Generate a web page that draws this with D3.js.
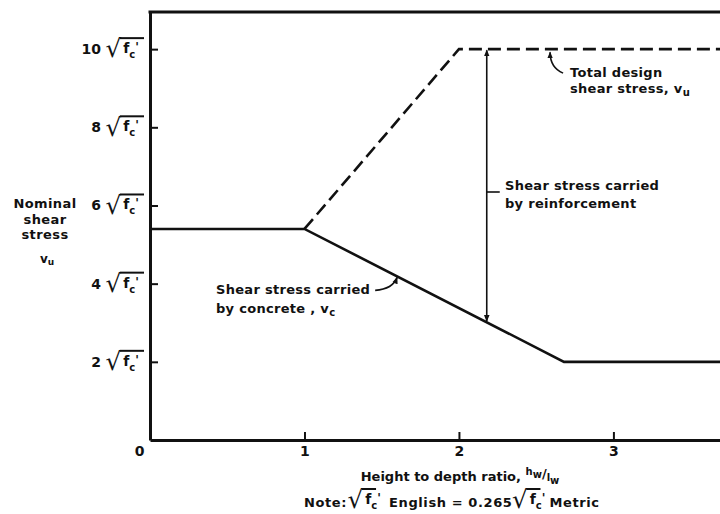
<!DOCTYPE html>
<html>
<head>
<meta charset="utf-8">
<script src="https://cdn.jsdelivr.net/npm/d3@7"></script>
<style>
  body { margin: 0; background: #fff; }
  svg text { font-family: "DejaVu Sans", sans-serif; font-weight: bold; fill: #111; }
</style>
</head>
<body>
<div id="chart"></div>
<script>
// 1. Data ------------------------------------------------
var xTicks = [0, 1, 2, 3];
var yTicks = [2, 4, 6, 8, 10];
var yTickLabels = ["2", "4", "6", "8", "10"];
var concreteX = [0, 1, 2.68, 3.7];
var concreteY = [5.4, 5.4, 2, 2];
var totalX = [1, 2, 3.7];
var totalY = [5.4, 10, 10];
var reinfX = 2.18;       // where the "carried by reinforcement" arrow sits
var concreteNoteX = 1.6; // leader target on the concrete line
var totalNoteX = 2.59;   // leader target on the dashed line

// 2. SVG + scales ----------------------------------------
var svgWidth = 720;
var svgHeight = 514;

var svg = d3.select("#chart").append("svg")
  .attr("width", svgWidth)
  .attr("height", svgHeight);

var xScale = d3.scaleLinear().domain([0, 3.69]).range([150, 720]);
var yScale = d3.scaleLinear().domain([0, 10.95]).range([440, 12]);

var ink = "#111";

svg.append("defs").append("marker")
  .attr("id", "head")
  .attr("viewBox", "0 0 10 10")
  .attr("refX", 9).attr("refY", 5)
  .attr("markerWidth", 7).attr("markerHeight", 7)
  .attr("markerUnits", "userSpaceOnUse")
  .attr("orient", "auto-start-reverse")
  .append("path").attr("d", "M0,1L10,5L0,9Z").attr("fill", ink);

// 3. Axes -------------------------------------------------
var xAxis = d3.axisBottom(xScale).tickValues(xTicks).tickSize(-8).tickSizeOuter(0)
  .tickPadding(6).tickFormat(d3.format("d"));
var yAxis = d3.axisLeft(yScale).tickValues(yTicks).tickSize(-8).tickSizeOuter(0).tickFormat("");

var gx = svg.append("g").attr("transform", `translate(0, ${yScale(0)})`).call(xAxis);
var gy = svg.append("g").attr("transform", `translate(${xScale(0)}, 0)`).call(yAxis);

[gx, gy].forEach(g => {
  g.select(".domain").attr("stroke", ink).attr("stroke-width", 3);
  g.selectAll(".tick line").attr("stroke", ink).attr("stroke-width", 2);
});
gx.selectAll(".tick text").style("font-size", "14px").attr("fill", ink);
// 0 sits left of the corner, no tick mark there
gx.selectAll(".tick").filter(d => d === 0).select("line").remove();
gx.selectAll(".tick").filter(d => d === 0).select("text").attr("dx", -11);

// top border
svg.append("line")
  .attr("x1", xScale(0) - 1.5).attr("x2", svgWidth)
  .attr("y1", yScale.range()[1]).attr("y2", yScale.range()[1])
  .attr("stroke", ink).attr("stroke-width", 3);

// measure the real glyph of the radical so it can be fitted to a box
var ctx = document.createElement("canvas").getContext("2d");
ctx.font = "100px 'DejaVu Sans'";
var gm = ctx.measureText("√");
var gAsc = gm.actualBoundingBoxAscent, gDesc = gm.actualBoundingBoxDescent;
var gL = gm.actualBoundingBoxLeft, gR = gm.actualBoundingBoxRight;

// radical with f'c under it, all in one text; yc = middle line, w = total width
function radical(g, x, yc, w) {
  var top = yc - 12, bot = yc + 9;
  var fs = 100 * (bot - top) / (gAsc + gDesc);
  var checkW = (gL + gR) * fs / 100;
  var fx = x + Math.max(13, checkW + 2);
  var t = g.append("text");
  t.append("tspan")
    .attr("x", x + gL * fs / 100).attr("y", top + gAsc * fs / 100)
    .style("font-size", fs + "px").style("font-weight", "normal")
    .text("√");
  t.append("tspan").attr("x", fx).attr("y", yc + 4).style("font-size", "14px").text("f");
  t.append("tspan").attr("x", fx + 6).attr("y", yc + 9).style("font-size", "10px").text("c");
  t.append("tspan").attr("x", fx + 12).attr("y", yc + 2).style("font-size", "12px").text("'");
  g.append("line")
    .attr("x1", x + checkW - 1.5).attr("x2", x + w)
    .attr("y1", top + 1).attr("y2", top + 1)
    .attr("stroke", ink).attr("stroke-width", 2);
  return w;
}

// y tick labels
yTicks.forEach((t, i) => {
  var yc = yScale(t);
  var g = svg.append("g");
  g.append("text").attr("x", 101).attr("y", yc + 5).attr("text-anchor", "end")
    .style("font-size", "14px").text(yTickLabels[i]);
  radical(g, 106, yc, 38);
});

// 4. Lines ------------------------------------------------
var line = d3.line().x(d => xScale(d[0])).y(d => yScale(d[1]));

svg.append("path")
  .datum(concreteX.map((x, i) => [x, concreteY[i]]))
  .attr("d", line).attr("fill", "none")
  .attr("stroke", ink).attr("stroke-width", 2.6);

svg.append("path")
  .datum(totalX.map((x, i) => [x, totalY[i]]))
  .attr("d", line).attr("fill", "none")
  .attr("stroke", ink).attr("stroke-width", 2.6)
  .attr("stroke-dasharray", "13,6");

// concrete value at some x (for arrows/leaders)
function concreteAt(x) {
  var i = d3.bisectRight(concreteX, x) - 1;
  i = Math.max(0, Math.min(i, concreteX.length - 2));
  var t = (x - concreteX[i]) / (concreteX[i + 1] - concreteX[i]);
  return concreteY[i] + t * (concreteY[i + 1] - concreteY[i]);
}

// double arrow: reinforcement share
svg.append("line")
  .attr("x1", xScale(reinfX)).attr("x2", xScale(reinfX))
  .attr("y1", yScale(concreteAt(reinfX)) - 1).attr("y2", yScale(10) + 1)
  .attr("stroke", ink).attr("stroke-width", 1.6)
  .attr("marker-start", "url(#head)").attr("marker-end", "url(#head)");

svg.append("line")
  .attr("x1", xScale(reinfX)).attr("x2", xScale(reinfX) + 13)
  .attr("y1", 192).attr("y2", 192)
  .attr("stroke", ink).attr("stroke-width", 1.6);

// 5. Annotations ------------------------------------------
function note(x, y, gap, lines) {
  var t = svg.append("text").attr("x", x).attr("y", y)
    .style("font-size", "13px").style("letter-spacing", "0.3px");
  lines.forEach((l, i) => {
    var ts = t.append("tspan").attr("x", x).attr("dy", i ? gap : 0);
    l.forEach(part => {
      if (typeof part === "string") ts.append("tspan").text(part);
      else ts.append("tspan").attr("dy", part.dy).style("font-size", "10px").text(part.s);
    });
  });
  return t;
}

note(505, 190, 18, [["Shear stress carried"], ["by reinforcement"]]);
note(570, 77, 16, [["Total  design"], ["shear stress, v", {s: "u", dy: 3}]]);
note(216, 294, 19, [["Shear stress carried"], ["by concrete , v", {s: "c", dy: 3}]]);

// leaders
var tx = xScale(totalNoteX), ty = yScale(10) + 2;
svg.append("path")
  .attr("d", `M${tx + 13},${ty + 22} C${tx + 4},${ty + 18} ${tx},${ty + 10} ${tx},${ty + 1}`)
  .attr("fill", "none").attr("stroke", ink).attr("stroke-width", 1.6)
  .attr("marker-end", "url(#head)");

var cx = xScale(concreteNoteX), cy = yScale(concreteAt(concreteNoteX)) + 1;
svg.append("path")
  .attr("d", `M${cx - 22},${cy + 13} C${cx - 10},${cy + 12} ${cx - 3},${cy + 8} ${cx},${cy}`)
  .attr("fill", "none").attr("stroke", ink).attr("stroke-width", 1.6)
  .attr("marker-end", "url(#head)");

// y axis title
var ytitle = svg.append("text").attr("text-anchor", "middle")
  .style("font-size", "13px").style("letter-spacing", "0.4px");
[["Nominal", 208], ["shear", 224], ["stress", 239]].forEach(d => {
  ytitle.append("tspan").attr("x", 45).attr("y", d[1]).text(d[0]);
});
svg.append("text").attr("x", 40).attr("y", 263).style("font-size", "12px")
  .text("v").append("tspan").attr("dy", 2).style("font-size", "9px").text("u");

// x axis title
var xt = svg.append("text").attr("x", 460).attr("y", 481).attr("text-anchor", "middle")
  .style("font-size", "13px");
xt.append("tspan").text("Height to depth ratio, ");
xt.append("tspan").attr("dy", -6).style("font-size", "10px").text("h");
xt.append("tspan").attr("dy", 3).style("font-size", "10px").text("w");
xt.append("tspan").attr("dy", 0).text("/");
xt.append("tspan").attr("dy", 3).style("font-size", "10px").text("l");
xt.append("tspan").attr("dy", 3).style("font-size", "10px").text("w");

// note line, laid out piece by piece from its left end
var ng = svg.append("g");
var nx = 0, ny = 507;
function piece(s) {
  var t = ng.append("text").attr("x", nx).attr("y", ny)
    .style("font-size", "13px").style("letter-spacing", "0.6px").text(s);
  nx += t.node().getComputedTextLength();
}
piece("Note: ");
nx += radical(ng, nx + 1, ny - 7, 28) + 14;
piece("English = 0.265 ");
nx += radical(ng, nx, ny - 7, 28) + 9;
piece("Metric");
ng.attr("transform", `translate(304, 0)`);
</script>
</body>
</html>
